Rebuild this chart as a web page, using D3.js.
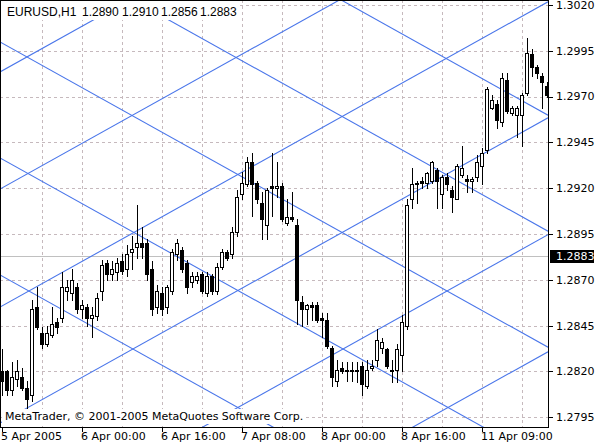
<!DOCTYPE html>
<html>
<head>
<meta charset="utf-8">
<script src="https://cdn.jsdelivr.net/npm/d3@7"></script>
<style>
  body { margin: 0; background: #fff; }
  text { font-family: "DejaVu Sans", sans-serif; font-size: 11px; fill: #000; }
  text.title { font-family: "Liberation Sans", Arial, sans-serif; font-size: 12px; }
</style>
</head>
<body>
<div id="chart"></div>
<script>
// EURUSD H1 candles, one value per hourly bar (bar 0 = 5 Apr 2005 08:00)
var opens = [
  1.2820, 1.2820, 1.2810, 1.2816, 1.2817, 1.2811, 1.2807, 1.2855, 1.2841, 1.2835,
  1.2840, 1.2847, 1.2849, 1.2864, 1.2863, 1.2866, 1.2854, 1.2855, 1.2849, 1.2850,
  1.2864, 1.2879, 1.2873, 1.2874, 1.2880, 1.2876, 1.2885, 1.2888, 1.2890, 1.2890,
  1.2876, 1.2855, 1.2863, 1.2855, 1.2864, 1.2884, 1.2886, 1.2879, 1.2869, 1.2870,
  1.2873, 1.2863, 1.2872, 1.2864, 1.2877, 1.2885, 1.2884, 1.2896, 1.2917, 1.2922,
  1.2934, 1.2923, 1.2912, 1.2900, 1.2921, 1.2920, 1.2921, 1.2901, 1.2904, 1.2900,
  1.2858, 1.2854, 1.2856, 1.2856, 1.2849, 1.2848, 1.2833, 1.2815, 1.2822, 1.2821,
  1.2821, 1.2820, 1.2823, 1.2812, 1.2822, 1.2826, 1.2833, 1.2832, 1.2820, 1.2821,
  1.2829, 1.2845, 1.2914, 1.2923, 1.2924, 1.2923, 1.2924, 1.2930, 1.2917, 1.2926,
  1.2919, 1.2914, 1.2927, 1.2925, 1.2924, 1.2926, 1.2932, 1.2941, 1.2964, 1.2966,
  1.2956, 1.2979, 1.2961, 1.2960, 1.2960, 1.2972, 1.2993, 1.2986, 1.2981, 1.2976
];
var highs = [
  1.2832, 1.2821, 1.2825, 1.2826, 1.2822, 1.2815, 1.2859, 1.2866, 1.2844, 1.2845,
  1.2855, 1.2849, 1.2874, 1.2870, 1.2876, 1.2868, 1.2859, 1.2857, 1.2855, 1.2863,
  1.2881, 1.2881, 1.2880, 1.2882, 1.2884, 1.2889, 1.2894, 1.2911, 1.2899, 1.2892,
  1.2880, 1.2867, 1.2866, 1.2867, 1.2887, 1.2892, 1.2888, 1.2881, 1.2874, 1.2874,
  1.2874, 1.2874, 1.2873, 1.2879, 1.2887, 1.2886, 1.2899, 1.2919, 1.2929, 1.2937,
  1.2939, 1.2924, 1.2918, 1.2920, 1.2939, 1.2934, 1.2923, 1.2914, 1.2918, 1.2903,
  1.2861, 1.2857, 1.2858, 1.2858, 1.2852, 1.2852, 1.2834, 1.2826, 1.2825, 1.2825,
  1.2825, 1.2825, 1.2825, 1.2826, 1.2826, 1.2843, 1.2838, 1.2833, 1.2826, 1.2835,
  1.2851, 1.2914, 1.2931, 1.2924, 1.2926, 1.2929, 1.2935, 1.2931, 1.2927, 1.2928,
  1.2921, 1.2933, 1.2943, 1.2927, 1.2926, 1.2938, 1.2942, 1.2975, 1.2971, 1.2968,
  1.2983, 1.2983, 1.2965, 1.2965, 1.2972, 1.3002, 1.2996, 1.2987, 1.2983, 1.2978
];
var lows = [
  1.2807, 1.2807, 1.2807, 1.2812, 1.2810, 1.2800, 1.2804, 1.2843, 1.2833, 1.2834,
  1.2839, 1.2841, 1.2847, 1.2859, 1.2859, 1.2852, 1.2849, 1.2845, 1.2839, 1.2848,
  1.2859, 1.2870, 1.2870, 1.2870, 1.2873, 1.2872, 1.2876, 1.2882, 1.2882, 1.2870,
  1.2851, 1.2852, 1.2851, 1.2852, 1.2862, 1.2881, 1.2874, 1.2863, 1.2866, 1.2868,
  1.2863, 1.2861, 1.2862, 1.2862, 1.2876, 1.2881, 1.2882, 1.2894, 1.2914, 1.2921,
  1.2905, 1.2912, 1.2892, 1.2892, 1.2905, 1.2915, 1.2902, 1.2900, 1.2902, 1.2846,
  1.2845, 1.2846, 1.2848, 1.2847, 1.2839, 1.2833, 1.2812, 1.2812, 1.2819, 1.2815,
  1.2815, 1.2814, 1.2807, 1.2811, 1.2821, 1.2823, 1.2830, 1.2822, 1.2814, 1.2814,
  1.2820, 1.2843, 1.2909, 1.2912, 1.2920, 1.2920, 1.2923, 1.2909, 1.2909, 1.2919,
  1.2907, 1.2914, 1.2926, 1.2918, 1.2918, 1.2924, 1.2922, 1.2939, 1.2963, 1.2953,
  1.2954, 1.2961, 1.2960, 1.2948, 1.2943, 1.2971, 1.2981, 1.2980, 1.2964, 1.2970
];
var closes = [
  1.2815, 1.2810, 1.2817, 1.2820, 1.2811, 1.2805, 1.2854, 1.2844, 1.2835, 1.2841,
  1.2846, 1.2844, 1.2866, 1.2866, 1.2870, 1.2854, 1.2856, 1.2849, 1.2851, 1.2860,
  1.2878, 1.2873, 1.2876, 1.2879, 1.2875, 1.2884, 1.2887, 1.2890, 1.2888, 1.2873,
  1.2854, 1.2864, 1.2854, 1.2866, 1.2885, 1.2890, 1.2876, 1.2866, 1.2872, 1.2872,
  1.2864, 1.2872, 1.2864, 1.2877, 1.2885, 1.2882, 1.2896, 1.2915, 1.2923, 1.2934,
  1.2922, 1.2914, 1.2903, 1.2919, 1.2920, 1.2921, 1.2903, 1.2904, 1.2903, 1.2859,
  1.2854, 1.2856, 1.2855, 1.2848, 1.2848, 1.2834, 1.2817, 1.2821, 1.2820, 1.2820,
  1.2820, 1.2821, 1.2813, 1.2821, 1.2823, 1.2837, 1.2836, 1.2823, 1.2821, 1.2832,
  1.2847, 1.2911, 1.2922, 1.2922, 1.2923, 1.2928, 1.2934, 1.2924, 1.2926, 1.2922,
  1.2915, 1.2932, 1.2931, 1.2924, 1.2925, 1.2934, 1.2939, 1.2974, 1.2968, 1.2957,
  1.2980, 1.2962, 1.2964, 1.2964, 1.2971, 1.2994, 1.2986, 1.2983, 1.2978, 1.2971
];

// time axis labels (bar index -> label)
var timeTickBars = [0, 16, 32, 48, 64, 80, 96];
var timeTickLabels = ["5 Apr 2005", "6 Apr 00:00", "6 Apr 16:00", "7 Apr 08:00",
                      "8 Apr 00:00", "8 Apr 16:00", "11 Apr 09:00"];
var gridBars = [8, 16, 24, 32, 40, 48, 56, 64, 72, 80, 88, 96, 104];

// price axis labels
var priceTicks = [1.2795, 1.2820, 1.2845, 1.2870, 1.2895, 1.2920, 1.2945, 1.2970, 1.2995, 1.3020];
var lastPrice = 1.2883;
var titleParts = ["EURUSD,H1", "1.2890", "1.2910", "1.2856", "1.2883"];
var copyright = "MetaTrader, \u00a9 2001-2005 MetaQuotes Software Corp.";

// channel lines: price at bar 0 and change per bar
var upChannelStart = [1.29840, 1.29201, 1.28557, 1.27924, 1.27286, 1.26647];
var upChannelSlope = 0.000152;
var downChannelStart = [1.31258, 1.30625, 1.29992, 1.29359, 1.28720];
var downChannelSlope = -0.000152;

var width = 595, height = 446,
    plotW = 548, plotH = 427;

var svg = d3.select("#chart").append("svg")
    .attr("width", width)
    .attr("height", height);

var xScale = d3.scaleLinear().domain([0, 109]).range([2, 547]);
var yScale = d3.scaleLinear().domain([1.278966, 1.302267]).range([plotH, 0]);
var firstBar = xScale.invert(0), lastBar = xScale.invert(plotW);

function crisp(v) { return Math.round(v) + 0.5; }

svg.append("defs").append("clipPath").attr("id", "plotclip")
  .append("rect").attr("x", 0).attr("y", 0).attr("width", plotW).attr("height", plotH);

var plot = svg.append("g").attr("clip-path", "url(#plotclip)");

// dashed grid
plot.selectAll(".hgrid").data(priceTicks).enter().append("line")
    .attr("x1", 0).attr("x2", plotW)
    .attr("y1", function (d) { return crisp(yScale(d)); })
    .attr("y2", function (d) { return crisp(yScale(d)); })
    .attr("stroke", "#c6b9bd").attr("stroke-dasharray", "3,3");
plot.selectAll(".vgrid").data(gridBars).enter().append("line")
    .attr("y1", 0).attr("y2", plotH)
    .attr("x1", function (d) { return crisp(xScale(d)); })
    .attr("x2", function (d) { return crisp(xScale(d)); })
    .attr("stroke", "#c6b9bd").attr("stroke-dasharray", "3,3");

// bid line
plot.append("line")
    .attr("x1", 0).attr("x2", plotW)
    .attr("y1", crisp(yScale(lastPrice))).attr("y2", crisp(yScale(lastPrice)))
    .attr("stroke", "#c0c0c0");

// channel lines
function channel(start, slope) {
    return {
        x1: xScale(firstBar), y1: yScale(start + slope * firstBar),
        x2: xScale(lastBar), y2: yScale(start + slope * lastBar)
    };
}
var chLines = upChannelStart.map(function (s) { return channel(s, upChannelSlope); })
    .concat(downChannelStart.map(function (s) { return channel(s, downChannelSlope); }));
plot.selectAll(".chan").data(chLines).enter().append("line")
    .attr("x1", function (d) { return d.x1; }).attr("y1", function (d) { return d.y1; })
    .attr("x2", function (d) { return d.x2; }).attr("y2", function (d) { return d.y2; })
    .attr("stroke", "#4a76ea").attr("stroke-width", 1.1);

// candles: 4px body, wick on the body's centre-right column
var bars = d3.range(opens.length).map(function (i) {
    return { i: i, o: opens[i], h: highs[i], l: lows[i], c: closes[i] };
});
var candle = plot.selectAll(".candle").data(bars).enter().append("g");
candle.append("line")
    .attr("x1", function (d) { return Math.round(xScale(d.i)) + 0.5; })
    .attr("x2", function (d) { return Math.round(xScale(d.i)) + 0.5; })
    .attr("y1", function (d) { return Math.round(yScale(d.h)); })
    .attr("y2", function (d) { return Math.round(yScale(d.l)) + 1; })
    .attr("stroke", "#000");
candle.append("rect")
    .attr("x", function (d) { return Math.round(xScale(d.i)) - 1.5; })
    .attr("y", function (d) { return Math.round(yScale(Math.max(d.o, d.c))) + 0.5; })
    .attr("width", 3)
    .attr("height", function (d) {
        return Math.max(0, Math.round(yScale(Math.min(d.o, d.c))) - Math.round(yScale(Math.max(d.o, d.c))));
    })
    .attr("fill", function (d) { return d.c >= d.o ? "#fff" : "#000"; })
    .attr("stroke", "#000");

// title on a white box (hides the lines under it)
var titleX = [7, 82, 122, 161, 200];
svg.append("rect").attr("x", 1).attr("y", 1).attr("width", 236).attr("height", 19).attr("fill", "#fff");
svg.selectAll(".title").data(titleParts).enter().append("text")
    .attr("class", "title")
    .attr("x", function (d, i) { return titleX[i]; })
    .attr("y", 16)
    .text(function (d) { return d; });

// copyright label on its own box
var cg = svg.append("g");
var cbg = cg.append("rect").attr("fill", "#fff");
var ct = cg.append("text").attr("x", 5).attr("y", 420).text(copyright);
var bb = ct.node().getBBox();
cbg.attr("x", bb.x - 3).attr("y", bb.y - 1).attr("width", bb.width + 5).attr("height", bb.height + 2);

// frame
svg.append("rect")
    .attr("x", 0.5).attr("y", 0.5).attr("width", plotW).attr("height", plotH)
    .attr("fill", "none").attr("stroke", "#000");

// price axis
var yAxis = svg.append("g");
yAxis.selectAll("line").data(priceTicks).enter().append("line")
    .attr("x1", plotW + 1).attr("x2", plotW + 5)
    .attr("y1", function (d) { return crisp(yScale(d)); })
    .attr("y2", function (d) { return crisp(yScale(d)); })
    .attr("stroke", "#000");
yAxis.selectAll("text").data(priceTicks).enter().append("text")
    .attr("x", plotW + 8)
    .attr("y", function (d) { return yScale(d); })
    .attr("dy", "0.36em")
    .text(function (d) { return d.toFixed(4); });

// last price marker
var ly = yScale(lastPrice);
svg.append("rect").attr("x", plotW + 2).attr("y", Math.round(ly) - 6).attr("width", 44).attr("height", 13).attr("fill", "#000");
svg.append("text").attr("x", plotW + 8).attr("y", ly).attr("dy", "0.36em")
    .style("fill", "#fff").text(lastPrice.toFixed(4));

// time axis
var xAxis = svg.append("g");
xAxis.selectAll("line").data(timeTickBars).enter().append("line")
    .attr("x1", function (d) { return crisp(xScale(d)); })
    .attr("x2", function (d) { return crisp(xScale(d)); })
    .attr("y1", plotH + 1).attr("y2", plotH + 5)
    .attr("stroke", "#000");
xAxis.selectAll("text").data(timeTickBars).enter().append("text")
    .attr("x", function (d) { return xScale(d) - 1; })
    .attr("y", 440)
    .text(function (d, i) { return timeTickLabels[i]; });
</script>
</body>
</html>
